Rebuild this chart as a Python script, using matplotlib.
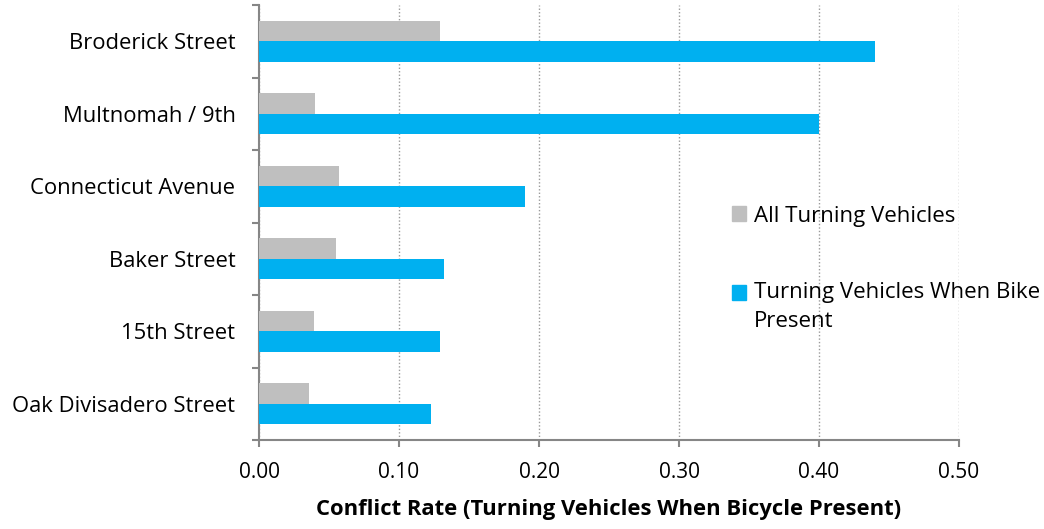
import numpy as np
import matplotlib
matplotlib.use("Agg")
import matplotlib.pyplot as plt
from matplotlib.patches import Patch, Rectangle
from matplotlib.legend_handler import HandlerPatch

plt.rcParams['font.family'] = ['Open Sans', 'DejaVu Sans']

# intersections, listed bottom to top
streets = ["Oak Divisadero Street", "15th Street", "Baker Street",
           "Connecticut Avenue", "Multnomah / 9th", "Broderick Street"]
all_turning = [0.036, 0.039, 0.055, 0.057, 0.040, 0.129]
bike_present = [0.123, 0.129, 0.132, 0.190, 0.400, 0.440]

gray = "#BFBFBF"
blue = "#00B0F0"
axis_col = "#868686"

fig = plt.figure(figsize=(10.44, 5.29), dpi=100)
ax = fig.add_axes([259/1044, 1 - 440/529, 700/1044, 435/529])

y = np.arange(len(streets))
h = 0.285
ax.barh(y + h/2, all_turning, height=h, color=gray, zorder=3)
ax.barh(y - h/2, bike_present, height=h, color=blue, zorder=3)

ax.set_xlim(0, 0.5)
ax.set_ylim(-0.5, len(streets) - 0.5)
ax.set_xticks(np.arange(0, 0.51, 0.1))
ax.set_xticklabels(["%.2f" % v for v in np.arange(0, 0.51, 0.1)], fontsize=15)
ax.set_yticks(y)
ax.set_yticklabels(streets, fontsize=15.8)
ax.set_yticks(np.arange(-0.5, len(streets), 1), minor=True)

ax.tick_params(axis='y', which='major', length=0, pad=17)
ax.tick_params(axis='y', which='minor', length=5, width=1.5, color=axis_col)
ax.tick_params(axis='x', which='major', length=5, width=1.5, color=axis_col, pad=11)

ax.xaxis.grid(True, linestyle=(0, (1, 1.5)), color="#9A9A9A", linewidth=1)
ax.set_axisbelow(True)

for s in ["top", "right"]:
    ax.spines[s].set_visible(False)
for s in ["left", "bottom"]:
    ax.spines[s].set_color(axis_col)
    ax.spines[s].set_linewidth(1.5)

ax.set_xlabel("Conflict Rate (Turning Vehicles When Bicycle Present)",
              fontsize=15.8, fontweight="bold", labelpad=11)


# legend key sitting level with the first line of a two-line label
def first_line_square(legend, orig_handle, xdescent, ydescent, width, height, fontsize):
    return Rectangle((-xdescent, -ydescent + 10.8), width, height)


handles = [Patch(color=gray), Patch(color=blue)]
labels = ["All Turning Vehicles", "Turning Vehicles When Bike\nPresent"]
leg = ax.legend(handles, labels, frameon=False, fontsize=16, loc="upper left",
                bbox_to_anchor=(0.647, 0.585), labelspacing=2.5,
                handlelength=0.65, handleheight=0.65, handletextpad=0.35,
                handler_map={handles[1]: HandlerPatch(patch_func=first_line_square)})
for t in leg.get_texts():
    t.set_linespacing(1.5)

fig.savefig("out.png", dpi=100)
